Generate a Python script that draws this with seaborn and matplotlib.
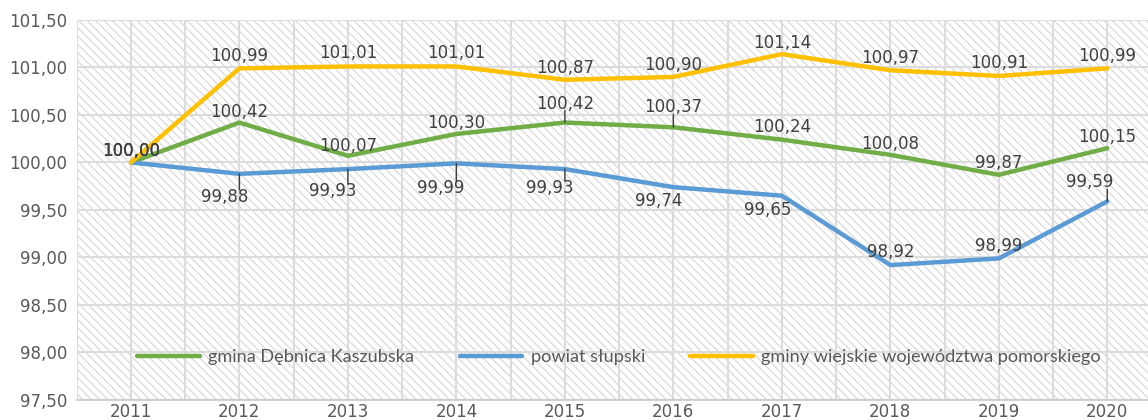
import numpy as np
import pandas as pd
import matplotlib
matplotlib.use("Agg")
import matplotlib.pyplot as plt
from matplotlib.patches import Rectangle
import seaborn as sns

years = ["2011", "2012", "2013", "2014", "2015", "2016", "2017", "2018", "2019", "2020"]
gmina = [100.00, 100.42, 100.07, 100.30, 100.42, 100.37, 100.24, 100.08, 99.87, 100.15]
powiat = [100.00, 99.88, 99.93, 99.99, 99.93, 99.74, 99.65, 98.92, 98.99, 99.59]
wiejskie = [100.00, 100.99, 101.01, 101.01, 100.87, 100.90, 101.14, 100.97, 100.91, 100.99]
names = ["gmina Dębnica Kaszubska", "powiat słupski", "gminy wiejskie województwa pomorskiego"]
colors = ["#70AD47", "#5B9BD5", "#FFC000"]

sns.set_theme(style="white")
plt.rcParams["font.family"] = ["DejaVu Sans"]
plt.rcParams["hatch.linewidth"] = 0.8

df = pd.DataFrame({
    "x": list(range(len(years))) * 3,
    "value": gmina + powiat + wiejskie,
    "series": [names[0]] * len(years) + [names[1]] * len(years) + [names[2]] * len(years),
})

fig = plt.figure(figsize=(11.48, 4.2), dpi=100)
ax = fig.add_axes([0.0668, 0.0476, 0.945, 0.905])

# hatched background
ax.add_patch(Rectangle((0, 0), 1, 1, transform=ax.transAxes, facecolor="white",
                       edgecolor="#d6d6d6", hatch="\\" * 4, lw=0, zorder=0))

sns.lineplot(data=df, x="x", y="value", hue="series", palette=colors,
             hue_order=names, linewidth=3.2, ax=ax, zorder=3)

ax.set_xlim(-0.5, 9.5)
ax.set_ylim(97.5, 101.5)
ax.set_yticks(np.arange(97.5, 101.51, 0.5))
ax.set_yticklabels([f"{v:.2f}".replace(".", ",") for v in np.arange(97.5, 101.51, 0.5)])
ax.set_xticks(range(len(years)))
ax.set_xticklabels(years)
ax.set_xticks(np.arange(-0.5, 9.6, 1.0), minor=True)
ax.grid(True, which="both", color="#dcdcdc", lw=1.5, zorder=1)
ax.set_axisbelow(True)
ax.tick_params(axis="both", which="both", length=0, labelsize=12, colors="#595959")
ax.tick_params(axis="y", pad=7)
ax.tick_params(axis="x", pad=2)
ax.set_xlabel("")
ax.set_ylabel("")
for s in ["left", "right", "top"]:
    ax.spines[s].set_visible(False)
ax.spines["bottom"].set_color("#c8c8c8")
ax.spines["bottom"].set_linewidth(1.2)

# data label offsets (pixels) and leader flag
off_g = [(0, 11, 0), (0, 11, 0), (0, 10, 0), (0, 11, 0), (0, 19, 1), (0, 20, 1),
         (0, 13, 0), (0, 11, 0), (0, 12, 0), (0, 11, 0)]
off_p = [(0, 11, 0), (-15, -23, 1), (-15, -22, 1), (-16, -25, 1), (-15, -19, 1),
         (-15, -14, 0), (-14, -14, 0), (0, 13, 0), (0, 12, 0), (-18, 19, 1)]
off_w = [(0, 11, 0), (0, 12, 0), (0, 13, 0), (0, 13, 0), (0, 12, 0), (0, 12, 0),
         (0, 11, 0), (0, 12, 0), (0, 13, 0), (0, 12, 0)]

for vals, offs in [(wiejskie, off_w), (gmina, off_g), (powiat, off_p)]:
    for i, (v, (dx, dy, lead)) in enumerate(zip(vals, offs)):
        label = f"{v:.2f}".replace(".", ",")
        ax.annotate(label, xy=(i, v), xytext=(dx, dy), textcoords="offset pixels",
                    ha="center", va="center", fontsize=12, color="#404040", zorder=5)
        if lead:
            sgn = 1 if dy > 0 else -1
            ax.annotate("", xy=(i, v), xytext=(0, dy - sgn * 7), textcoords="offset pixels",
                        arrowprops=dict(arrowstyle="-", color="#404040", lw=1.0,
                                        shrinkA=0, shrinkB=0), zorder=5)

leg = ax.legend(loc="center", bbox_to_anchor=(0.5, 0.113), ncol=3, frameon=False,
                handlelength=3.45, columnspacing=2.5, handletextpad=0.45,
                prop={"family": "Lato", "size": 13.1})
for t in leg.get_texts():
    t.set_color("#595959")
for h in leg.get_lines():
    h.set_linewidth(3.2)

fig.savefig("out.png", dpi=100)
